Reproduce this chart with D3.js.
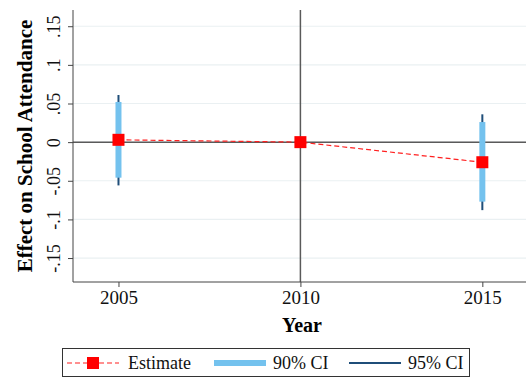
<!DOCTYPE html>
<html>
<head>
<meta charset="utf-8">
<script src="https://cdn.jsdelivr.net/npm/d3@7"></script>
<style>
  body { margin: 0; background: #fff; }
  svg { display: block; font-family: "Liberation Serif", "DejaVu Serif", serif; }
</style>
</head>
<body>
<svg id="chart" width="526" height="377"></svg>
<script>
// chart values
var years = [2005, 2010, 2015];
var estimate = [0.003, 0, -0.026];
var ci90_lo = [-0.046, 0, -0.077];
var ci90_hi = [0.052, 0, 0.026];
var ci95_lo = [-0.056, 0, -0.088];
var ci95_hi = [0.061, 0, 0.036];
var y_ticks = [-0.15, -0.1, -0.05, 0, 0.05, 0.1, 0.15];
var y_tick_labels = ["-.15", "-.1", "-.05", "0", ".05", ".1", ".15"];
var x_ticks = [2005, 2010, 2015];
var legend_labels = ["Estimate", "90% CI", "95% CI"];

var svg = d3.select("#chart");
var p_left = 73, p_right = 526, p_top = 10, p_bottom = 282;

var x = d3.scaleLinear().domain([2003.75, 2016.2]).range([p_left, p_right]);
var y = d3.scaleLinear().domain([-0.181, 0.171]).range([p_bottom, p_top]);

// grid lines
svg.append("g").selectAll("line").data(y_ticks).enter().append("line")
  .attr("x1", p_left).attr("x2", p_right)
  .attr("y1", function(d){return y(d);}).attr("y2", function(d){return y(d);})
  .style("stroke", "#eaf0f2").style("stroke-width", 1.2);

// reference lines at 0 and 2010
svg.append("line").attr("x1", p_left).attr("x2", p_right).attr("y1", y(0)).attr("y2", y(0))
  .style("stroke", "#5a5a5a").style("stroke-width", 1.5);
svg.append("line").attr("x1", x(2010)).attr("x2", x(2010)).attr("y1", p_top).attr("y2", p_bottom)
  .style("stroke", "#5a5a5a").style("stroke-width", 1.5);

// axes
var yAxis = svg.append("g").attr("transform", "translate(" + p_left + ",0)")
  .call(d3.axisLeft(y).tickValues(y_ticks).tickSize(5).tickSizeOuter(0)
    .tickFormat(function(d, i){return y_tick_labels[i];}));
yAxis.select(".domain").attr("d", "M0," + p_top + "V" + p_bottom).style("stroke", "#444").style("stroke-width", 1);
yAxis.selectAll(".tick line").style("stroke", "#444");
yAxis.selectAll(".tick text")
  .attr("x", 0).attr("y", 0).attr("dy", null)
  .attr("transform", "translate(-13,0) rotate(-90)")
  .attr("text-anchor", "middle")
  .style("font-family", "Liberation Serif, serif").style("font-size", "18px").style("fill", "#111");

var xAxis = svg.append("g").attr("transform", "translate(0," + p_bottom + ")")
  .call(d3.axisBottom(x).tickValues(x_ticks).tickSize(5).tickSizeOuter(0).tickFormat(d3.format("d")));
xAxis.select(".domain").attr("d", "M" + p_left + ",0H" + p_right).style("stroke", "#444");
xAxis.selectAll(".tick line").style("stroke", "#444");
xAxis.selectAll(".tick text").attr("y", 9).attr("dy", "0.71em")
  .style("font-family", "Liberation Serif, serif").style("font-size", "19px").style("fill", "#111");

// axis titles
svg.append("text").attr("transform", "translate(32,146) rotate(-90)")
  .attr("text-anchor", "middle").style("font-weight", "bold").style("font-size", "21px")
  .text("Effect on School Attendance");
svg.append("text").attr("x", 302).attr("y", 332).attr("text-anchor", "middle")
  .style("font-weight", "bold").style("font-size", "20px").text("Year");

var idx = d3.range(years.length);

// 95% CI lines
svg.append("g").selectAll("line").data(idx).enter().append("line")
  .attr("x1", function(i){return x(years[i]);}).attr("x2", function(i){return x(years[i]);})
  .attr("y1", function(i){return y(ci95_lo[i]);}).attr("y2", function(i){return y(ci95_hi[i]);})
  .style("stroke", "#1f4e79").style("stroke-width", 2);

// 90% CI bars
svg.append("g").selectAll("line").data(idx).enter().append("line")
  .attr("x1", function(i){return x(years[i]);}).attr("x2", function(i){return x(years[i]);})
  .attr("y1", function(i){return y(ci90_lo[i]);}).attr("y2", function(i){return y(ci90_hi[i]);})
  .style("stroke", "#74c2ee").style("stroke-width", 6);

// estimate line
var line = d3.line().x(function(i){return x(years[i]);}).y(function(i){return y(estimate[i]);});
svg.append("path").datum(idx).attr("d", line)
  .style("fill", "none").style("stroke", "#ff2020").style("stroke-width", 1.2)
  .style("stroke-dasharray", "5,3");

// estimate markers
svg.append("g").selectAll("rect").data(idx).enter().append("rect")
  .attr("x", function(i){return x(years[i]) - 6;}).attr("y", function(i){return y(estimate[i]) - 6;})
  .attr("width", 12).attr("height", 12).style("fill", "#ff0000");

// legend
var leg = svg.append("g");
leg.append("rect").attr("x", 62.5).attr("y", 348.5).attr("width", 407).attr("height", 28)
  .style("fill", "#fff").style("stroke", "#333").style("stroke-width", 1);
var ly = 363;
leg.append("line").attr("x1", 67).attr("x2", 119).attr("y1", ly).attr("y2", ly)
  .style("stroke", "#ff2020").style("stroke-width", 1.2).style("stroke-dasharray", "5,3");
leg.append("rect").attr("x", 87).attr("y", ly - 6).attr("width", 12).attr("height", 12).style("fill", "#ff0000");
leg.append("line").attr("x1", 214).attr("x2", 266).attr("y1", ly).attr("y2", ly)
  .style("stroke", "#74c2ee").style("stroke-width", 6);
leg.append("line").attr("x1", 349).attr("x2", 401).attr("y1", ly).attr("y2", ly)
  .style("stroke", "#1f4e79").style("stroke-width", 2);
var lx = [128, 273, 408];
leg.selectAll("text.lab").data(legend_labels).enter().append("text").attr("class", "lab")
  .attr("x", function(d, i){return lx[i];}).attr("y", ly).attr("dy", "0.35em")
  .style("font-size", "18px").style("fill", "#111").text(function(d){return d;});
</script>
</body>
</html>
